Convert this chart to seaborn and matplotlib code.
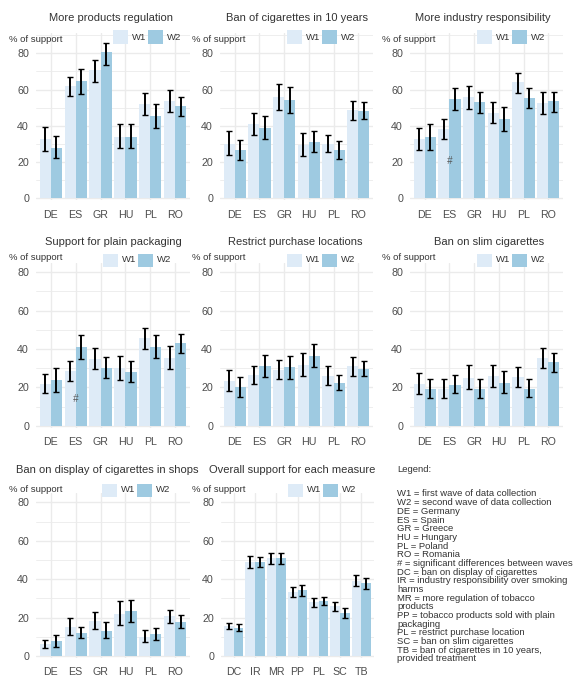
import matplotlib
matplotlib.use("Agg")
import numpy as np
import pandas as pd
import seaborn as sns
import matplotlib.pyplot as plt
from matplotlib.patches import Rectangle

sns.set_theme(style="white")
plt.rcParams["font.family"] = ["Liberation Sans", "DejaVu Sans"]

W, H = 577, 677

# ---- data -------------------------------------------------------------
countries = ["DE", "ES", "GR", "HU", "PL", "RO"]
measures = ["DC", "IR", "MR", "PP", "PL", "SC", "TB"]
waves = ["W1", "W2"]
wave_colors = {"W1": "#deebf7", "W2": "#9ecae1"}

# More products regulation
reg_w1 = [32.6, 62.0, 70.8, 34.0, 52.0, 53.9]
reg_w1_lo = [26.3, 56.6, 64.2, 27.6, 46.0, 47.8]
reg_w1_hi = [39.2, 66.8, 76.3, 40.8, 58.3, 59.8]
reg_w2 = [28.0, 64.9, 80.6, 34.0, 45.4, 50.9]
reg_w2_lo = [22.1, 57.6, 73.6, 28.0, 38.6, 45.6]
reg_w2_hi = [34.4, 71.4, 85.9, 40.8, 52.2, 55.7]

# Ban of cigarettes in 10 years
ban10_w1 = [30.1, 41.0, 55.8, 29.2, 29.9, 48.6]
ban10_w1_lo = [23.7, 35.1, 48.8, 23.3, 25.3, 43.4]
ban10_w1_hi = [37.3, 47.1, 62.8, 35.9, 35.1, 53.8]
ban10_w2 = [26.4, 38.8, 54.5, 30.9, 26.4, 48.4]
ban10_w2_lo = [21.4, 32.7, 47.3, 25.3, 21.8, 43.6]
ban10_w2_hi = [32.2, 45.3, 61.6, 37.2, 31.6, 53.2]

# More industry responsibility
ind_w1 = [32.6, 38.1, 55.7, 47.1, 63.9, 52.4]
ind_w1_lo = [26.9, 33.0, 49.3, 41.6, 58.2, 46.5]
ind_w1_hi = [38.6, 43.6, 61.9, 52.9, 69.4, 58.4]
ind_w2 = [33.7, 54.8, 53.1, 43.6, 55.5, 53.5]
ind_w2_lo = [26.9, 48.5, 47.1, 37.2, 50.0, 47.8]
ind_w2_hi = [40.8, 61.0, 58.9, 50.4, 60.6, 58.4]

# Support for plain packaging
pack_w1 = [21.9, 28.5, 34.7, 29.9, 45.6, 35.2]
pack_w1_lo = [17.1, 23.3, 29.5, 23.8, 39.9, 29.5]
pack_w1_hi = [27.1, 33.7, 40.4, 36.3, 51.0, 41.5]
pack_w2 = [23.8, 40.9, 29.9, 28.2, 41.3, 42.9]
pack_w2_lo = [17.8, 34.7, 24.7, 22.6, 35.2, 37.7]
pack_w2_hi = [30.2, 47.2, 35.6, 34.0, 47.5, 48.0]

# Restrict purchase locations
loc_w1 = [23.4, 26.5, 29.3, 31.5, 26.1, 31.0]
loc_w1_lo = [18.4, 21.6, 24.4, 25.8, 21.5, 26.0]
loc_w1_hi = [29.1, 31.4, 34.3, 37.9, 31.3, 35.8]
loc_w2 = [20.1, 31.2, 30.5, 36.5, 22.3, 29.6]
loc_w2_lo = [15.2, 25.5, 24.6, 30.8, 18.5, 25.8]
loc_w2_hi = [25.5, 37.1, 36.5, 42.6, 26.5, 33.8]

# Ban on slim cigarettes
slim_w1 = [21.6, 19.0, 24.9, 25.9, 25.4, 35.2]
slim_w1_lo = [16.8, 14.7, 19.0, 20.2, 20.2, 30.1]
slim_w1_hi = [27.6, 24.2, 31.6, 31.6, 30.9, 40.6]
slim_w2 = [19.2, 21.4, 19.2, 22.3, 19.3, 33.0]
slim_w2_lo = [14.5, 17.1, 14.5, 16.9, 15.0, 28.3]
slim_w2_hi = [24.5, 26.4, 24.2, 28.5, 24.5, 38.0]

# Ban on display of cigarettes in shops
disp_w1 = [6.1, 14.9, 18.2, 22.0, 10.1, 21.0]
disp_w1_lo = [4.0, 10.9, 14.1, 16.1, 7.5, 17.0]
disp_w1_hi = [8.5, 19.8, 23.1, 28.6, 13.7, 24.1]
disp_w2 = [7.8, 12.0, 13.2, 23.3, 11.3, 17.9]
disp_w2_lo = [4.9, 9.4, 9.5, 17.9, 8.2, 14.8]
disp_w2_hi = [11.1, 15.1, 17.7, 29.2, 14.4, 21.2]

# Overall support for each measure
all_w1 = [15.5, 48.9, 50.8, 33.2, 28.0, 26.1, 39.2]
all_w1_lo = [13.8, 45.9, 47.7, 30.6, 25.7, 23.3, 36.3]
all_w1_hi = [17.4, 51.8, 53.5, 35.8, 30.4, 28.3, 42.3]
all_w2 = [14.5, 48.9, 50.8, 34.2, 28.7, 22.5, 38.0]
all_w2_lo = [12.8, 46.1, 47.7, 31.4, 26.3, 20.0, 35.1]
all_w2_hi = [16.4, 51.5, 53.4, 36.8, 30.9, 24.9, 40.7]

panels = [
    ("More products regulation", countries, reg_w1, reg_w1_lo, reg_w1_hi, reg_w2, reg_w2_lo, reg_w2_hi, []),
    ("Ban of cigarettes in 10 years", countries, ban10_w1, ban10_w1_lo, ban10_w1_hi, ban10_w2, ban10_w2_lo, ban10_w2_hi, []),
    ("More industry responsibility", countries, ind_w1, ind_w1_lo, ind_w1_hi, ind_w2, ind_w2_lo, ind_w2_hi, [("ES", 20.5)]),
    ("Support for plain packaging", countries, pack_w1, pack_w1_lo, pack_w1_hi, pack_w2, pack_w2_lo, pack_w2_hi, [("ES", 13.8)]),
    ("Restrict purchase locations", countries, loc_w1, loc_w1_lo, loc_w1_hi, loc_w2, loc_w2_lo, loc_w2_hi, []),
    ("Ban on slim cigarettes", countries, slim_w1, slim_w1_lo, slim_w1_hi, slim_w2, slim_w2_lo, slim_w2_hi, []),
    ("Ban on display of cigarettes in shops", countries, disp_w1, disp_w1_lo, disp_w1_hi, disp_w2, disp_w2_lo, disp_w2_hi, []),
    ("Overall support for each measure", measures, all_w1, all_w1_lo, all_w1_hi, all_w2, all_w2_lo, all_w2_hi, []),
]

legend_lines = [
    "W1 = first wave of data collection",
    "W2 = second wave of data collection",
    "DE = Germany",
    "ES = Spain",
    "GR = Greece",
    "HU = Hungary",
    "PL = Poland",
    "RO = Romania",
    "# = significant differences between waves",
    "DC = ban on display of cigarettes",
    "IR = industry responsibility over smoking",
    "harms",
    "MR = more regulation of tobacco",
    "products",
    "PP = tobacco products sold with plain",
    "packaging",
    "PL = restrict purchase location",
    "SC = ban on slim cigarettes",
    "TB = ban of cigarettes in 10 years,",
    "provided treatment",
]

# ---- layout (pixel geometry) -------------------------------------------
cols = [(36, 190), (220, 373), (410, 563)]
rows = [(33, 200.5, (-1.2, 91.2)), (263, 427.5, (-0.8, 84.7)), (493.3, 657.5, (-0.8, 84.7))]
title_x = [111, 297, 483, 113, 295, 489, 107, 292]
title_y = [18, 242, 470]
ylab_x = [9, 192, 382]
ylab_y = [39, 257, 489]
leg_x = [113, 287, 477, 103, 287, 477, 102, 288]
leg_y = [37, 260, 490]

TEXT = "#333333"
TICK = "#4d4d4d"
GRID = "#ebebeb"


def fx(x):
    return x / W


def fy(y):
    return 1 - y / H


fig = plt.figure(figsize=(W / 100, H / 100), dpi=100)
fig.patch.set_facecolor("white")

for i, (title, cats, w1, w1lo, w1hi, w2, w2lo, w2hi, marks) in enumerate(panels):
    r, c = divmod(i, 3)
    left, right = cols[c]
    if i == 7:
        left, right = 221, 374
    top, bottom, ylim = rows[r]
    ax = fig.add_axes([fx(left), fy(bottom), (right - left) / W, (bottom - top) / H])

    df = pd.DataFrame({
        "cat": list(cats) * 2,
        "wave": ["W1"] * len(cats) + ["W2"] * len(cats),
        "value": list(w1) + list(w2),
    })
    sns.barplot(data=df, x="cat", y="value", hue="wave", order=cats, hue_order=waves,
                palette=wave_colors, saturation=1, width=0.9, gap=0, errorbar=None,
                legend=False, ax=ax, zorder=2, linewidth=0)

    for cont, mid, lo, hi in zip(ax.containers, [w1, w2], [w1lo, w2lo], [w1hi, w2hi]):
        xs = [p.get_x() + p.get_width() / 2 for p in cont]
        mid = np.asarray(mid)
        yerr = [mid - np.asarray(lo), np.asarray(hi) - mid]
        ax.errorbar(xs, mid, yerr=yerr, fmt="none", ecolor="black", elinewidth=1.4,
                    capsize=2.4, capthick=1.0, zorder=3)

    for cat, yv in marks:
        ax.text(cats.index(cat), yv, "#", ha="center", va="center", fontsize=7,
                style="italic", color="#555555", zorder=4)

    ax.set_xlim(-0.6, len(cats) - 0.4)
    ax.set_ylim(*ylim)
    ax.set_yticks([0, 20, 40, 60, 80])
    minors = [m for m in [10, 30, 50, 70, 90] if m < ylim[1]]
    ax.set_yticks(minors, minor=True)
    ax.grid(axis="y", which="major", color=GRID, linewidth=1.0, zorder=0)
    ax.grid(axis="y", which="minor", color=GRID, linewidth=0.6, zorder=0)
    ax.grid(axis="x", which="major", color=GRID, linewidth=1.0, zorder=0)
    ax.set_axisbelow(True)
    for s in ax.spines.values():
        s.set_visible(False)
    ax.tick_params(axis="y", which="both", length=0, pad=5, labelsize=7.7, labelcolor=TICK)
    ax.tick_params(axis="x", length=3.5, width=0.8, color="#d9d9d9", pad=3,
                   labelsize=7.7, labelcolor=TICK)
    ax.set_xlabel("")
    ax.set_ylabel("")

    # title and y caption
    fig.text(fx(title_x[i]), fy(title_y[r]), title, ha="center", va="center",
             fontsize=8, color=TEXT)
    fig.text(fx(ylab_x[c]), fy(ylab_y[r]), "% of support", ha="left", va="center",
             fontsize=6.8, color=TEXT)

    # wave key
    lx, ly = leg_x[i], leg_y[r]
    for k, wv in enumerate(waves):
        sx = lx + 35 * k
        fig.add_artist(Rectangle((fx(sx), fy(ly + 6.5)), 15 / W, 13 / H,
                                 transform=fig.transFigure, facecolor=wave_colors[wv],
                                 edgecolor="none"))
        fig.text(fx(sx + 19), fy(ly), wv, ha="left", va="center", fontsize=6.8, color=TEXT)

# explanatory text block
fig.text(fx(397), fy(469), "Legend:", ha="left", va="center", fontsize=6.8, color=TEXT)
for j, line in enumerate(legend_lines):
    fig.text(fx(397), fy(494 + 8.68 * j), line, ha="left", va="center",
             fontsize=6.8, color=TEXT)

fig.savefig("out.png", dpi=100, facecolor="white")
